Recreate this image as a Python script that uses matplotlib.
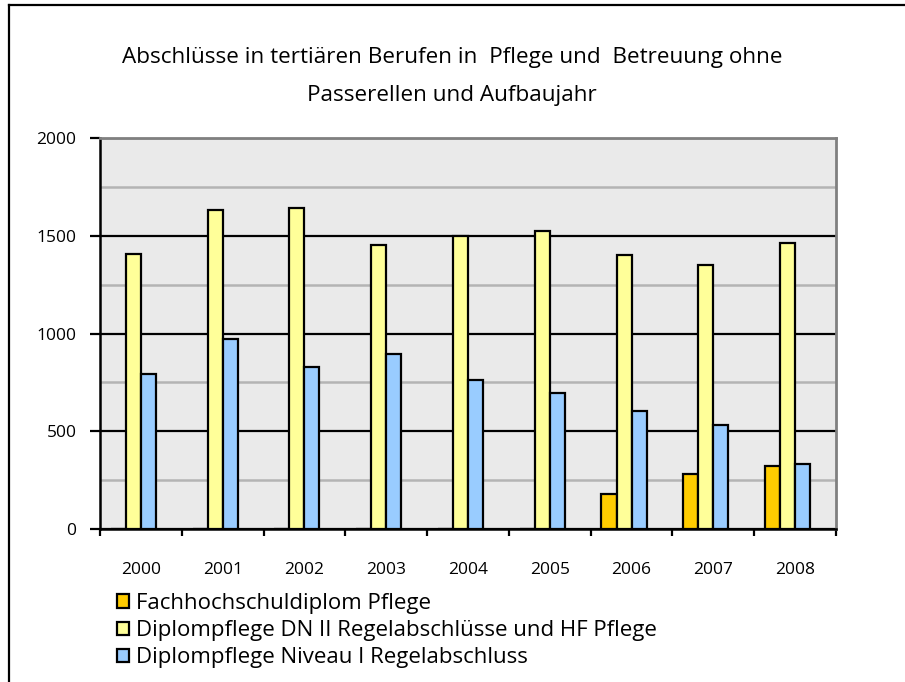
import numpy as np
import matplotlib.pyplot as plt
from matplotlib.lines import Line2D
from matplotlib.ticker import MultipleLocator

# Daten
years = ['2000', '2001', '2002', '2003', '2004', '2005', '2006', '2007', '2008']
fachhochschule = [0, 0, 0, 0, 0, 0, 181, 281, 320]
dn2_hf = [1410, 1632, 1642, 1456, 1500, 1523, 1403, 1350, 1462]
niveau1 = [794, 973, 828, 895, 763, 696, 602, 534, 334]

labels = ['Fachhochschuldiplom Pflege',
          'Diplompflege DN II Regelabschlüsse und HF Pflege',
          'Diplompflege Niveau I Regelabschluss']
colors = ['#FFCC00', '#FFFF99', '#99CCFF']

plt.rcParams['font.family'] = ['Open Sans', 'DejaVu Sans']

fig = plt.figure(figsize=(9.05, 6.82), dpi=100)
ax = fig.add_axes([100 / 905, 1 - 529 / 682, 736 / 905, (529 - 138.3) / 682])
ax.set_facecolor('#EAEAEA')

x = np.arange(len(years))
w = 0.184
# vier Plaetze pro Kategorie (der vierte bleibt leer wie im Original)
for k, (vals, col, lab) in enumerate(zip([fachhochschule, dn2_hf, niveau1], colors, labels)):
    ax.bar(x + (k - 2) * w, vals, width=w, align='edge', color=col,
           edgecolor='black', linewidth=1.6, label=lab, zorder=3)

ax.set_xlim(-0.5, len(years) - 0.5)
ax.set_ylim(0, 2000)

ax.yaxis.set_major_locator(MultipleLocator(500))
ax.yaxis.set_minor_locator(MultipleLocator(250))
ax.grid(axis='y', which='minor', color='#B4B4B4', linewidth=1.8, zorder=1)
ax.grid(axis='y', which='major', color='black', linewidth=1.6, zorder=2)
ax.set_axisbelow(True)

ax.set_xticks(x)
ax.set_xticklabels(years, fontsize=12.5)
ax.set_xticks(np.arange(-0.5, len(years)), minor=True)
ax.tick_params(axis='x', which='major', length=0, pad=24)
ax.tick_params(axis='x', which='minor', length=5, width=1.6, color='black')
ax.tick_params(axis='y', which='major', length=7, width=1.6, labelsize=12.5, pad=10)
ax.tick_params(axis='y', which='minor', length=0)

for side in ['left', 'bottom']:
    ax.spines[side].set_color('black')
    ax.spines[side].set_linewidth(1.8)
for side in ['top', 'right']:
    ax.spines[side].set_color('#808080')
    ax.spines[side].set_linewidth(2)

fig.text(452 / 905, 1 - 57 / 682, 'Abschlüsse in tertiären Berufen in  Pflege und  Betreuung ohne',
         ha='center', va='center', fontsize=16.2)
fig.text(452 / 905, 1 - 95 / 682, 'Passerellen und Aufbaujahr',
         ha='center', va='center', fontsize=16.2)

handles, labs = ax.get_legend_handles_labels()
fig.legend(handles, labs, loc='upper left', bbox_to_anchor=(117 / 905, 1 - 593 / 682),
           frameon=False, fontsize=16, handlelength=0.55, handleheight=0.55,
           handletextpad=0.3, labelspacing=0.28, borderaxespad=0, borderpad=0)

# Rahmen links und oben
fig.add_artist(Line2D([9 / 905, 9 / 905], [0, 1 - 5 / 682], transform=fig.transFigure,
                      color='black', linewidth=1.6))
fig.add_artist(Line2D([9 / 905, 1], [1 - 5 / 682, 1 - 5 / 682], transform=fig.transFigure,
                      color='black', linewidth=1.6))

fig.savefig('out.png', dpi=100)
